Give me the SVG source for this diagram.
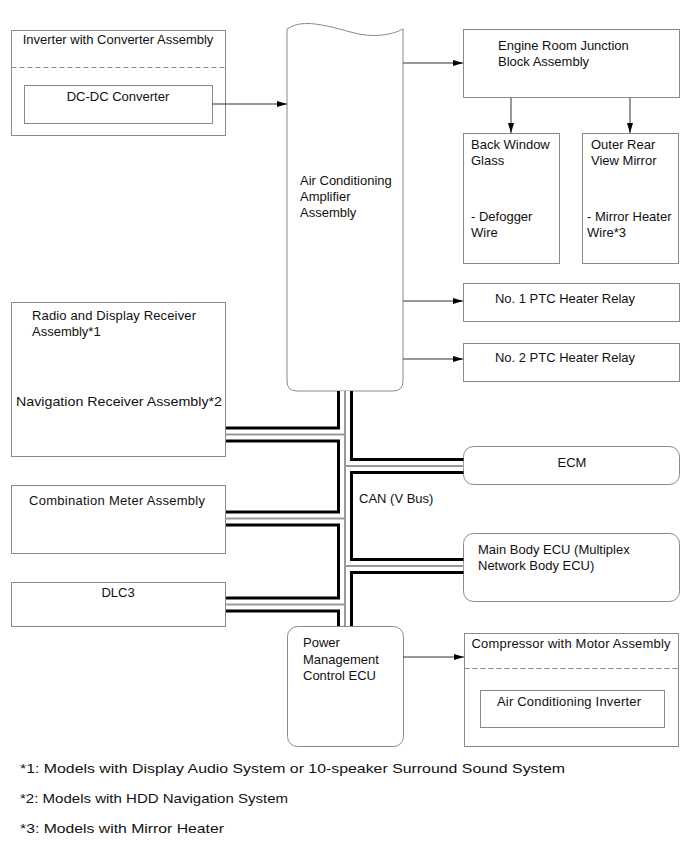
<svg xmlns="http://www.w3.org/2000/svg" width="690" height="855" viewBox="0 0 690 855">
<style>
.box{fill:#fff;stroke:#8a8a8a;stroke-width:1}
.dash{fill:none;stroke:#8a8a8a;stroke-width:1;stroke-dasharray:5,3}
.t{font-family:"Liberation Sans",Arial,sans-serif;font-size:13px;fill:#111}
.m{text-anchor:middle}
.fn{font-size:13.5px}
.arr{fill:none;stroke:#333;stroke-width:1;marker-end:url(#ah)}
.bk{fill:none;stroke:#000;stroke-width:16}
.wh{fill:none;stroke:#fff;stroke-width:10}
.gr{fill:none;stroke:#999;stroke-width:2}
</style>
<defs>
<marker id="ah" markerUnits="userSpaceOnUse" markerWidth="10" markerHeight="6" refX="10" refY="3" orient="auto">
<path d="M0,0 L10,3 L0,6 z" fill="#000"/>
</marker>
</defs>
<rect width="690" height="855" fill="#fff"/>

<g id="inverter">
<rect class="box" x="11.5" y="30.5" width="214" height="105"/>
<line class="dash" x1="11.5" y1="67.5" x2="225.5" y2="67.5"/>
<text class="t m" x="118" y="44">Inverter with Converter Assembly</text>
</g>
<g id="dcdc">
<rect class="box" x="24.5" y="85.5" width="188" height="38"/>
<text class="t m" x="118" y="101">DC-DC Converter</text>
</g>

<g id="amplifier">
<path class="box" d="M287,29 C296,23 306,23 315,24 C340,27 355,36 375,35.5 C390,35 397,32 403,29 L403,381 Q403,391 393,391 L297,391 Q287,391 287,381 Z"/>
<text class="t" x="300" y="185">Air Conditioning</text>
<text class="t" x="300" y="201">Amplifier</text>
<text class="t" x="300" y="217">Assembly</text>
</g>

<g id="engine-room">
<rect class="box" x="463.5" y="29.5" width="216" height="68"/>
<text class="t" x="498" y="50">Engine Room Junction</text>
<text class="t" x="498" y="66">Block Assembly</text>
</g>
<g id="back-window">
<rect class="box" x="463.5" y="133.5" width="96" height="130"/>
<text class="t" x="471" y="149">Back Window</text>
<text class="t" x="471" y="165">Glass</text>
<text class="t" x="471" y="221">- Defogger</text>
<text class="t" x="471" y="237">Wire</text>
</g>
<g id="outer-mirror">
<rect class="box" x="582.5" y="133.5" width="96" height="130"/>
<text class="t" x="591" y="149">Outer Rear</text>
<text class="t" x="591" y="165">View Mirror</text>
<text class="t" x="587" y="221">- Mirror Heater</text>
<text class="t" x="587" y="237">Wire*3</text>
</g>
<g id="ptc1">
<rect class="box" x="463.5" y="283.5" width="216" height="38"/>
<text class="t m" x="565" y="303">No. 1 PTC Heater Relay</text>
</g>
<g id="ptc2">
<rect class="box" x="463.5" y="343.5" width="216" height="38"/>
<text class="t m" x="565" y="362">No. 2 PTC Heater Relay</text>
</g>

<g id="radio">
<rect class="box" x="11.5" y="302.5" width="214" height="154"/>
<text class="t" x="32" y="320" textLength="164" lengthAdjust="spacing">Radio and Display Receiver</text>
<text class="t" x="32" y="336">Assembly*1</text>
<text class="t" x="16" y="406" textLength="206" lengthAdjust="spacingAndGlyphs">Navigation Receiver Assembly*2</text>
</g>
<g id="combination">
<rect class="box" x="11.5" y="485.5" width="214" height="68"/>
<text class="t m" x="117" y="505" textLength="176" lengthAdjust="spacing">Combination Meter Assembly</text>
</g>
<g id="dlc3">
<rect class="box" x="11.5" y="582.5" width="214" height="44"/>
<text class="t m" x="118" y="597">DLC3</text>
</g>

<g id="ecm">
<rect class="box" x="463.5" y="446.5" width="216" height="38" rx="10"/>
<text class="t m" x="572" y="467">ECM</text>
</g>
<g id="main-body">
<rect class="box" x="463.5" y="533.5" width="216" height="68" rx="10"/>
<text class="t" x="478" y="554">Main Body ECU (Multiplex</text>
<text class="t" x="478" y="570">Network Body ECU)</text>
</g>
<g id="power-mgmt">
<rect class="box" x="287.5" y="626.5" width="116" height="120" rx="10"/>
<text class="t" x="303" y="647">Power</text>
<text class="t" x="303" y="663.5">Management</text>
<text class="t" x="303" y="680">Control ECU</text>
</g>
<g id="compressor">
<rect class="box" x="464.5" y="633.5" width="214" height="113"/>
<line class="dash" x1="464.5" y1="668.5" x2="678.5" y2="668.5"/>
<text class="t m" x="571" y="648" textLength="199" lengthAdjust="spacing">Compressor with Motor Assembly</text>
</g>
<g id="ac-inverter">
<rect class="box" x="480.5" y="690.5" width="184" height="37"/>
<text class="t m" x="569" y="706" textLength="144" lengthAdjust="spacing">Air Conditioning Inverter</text>
</g>

<g id="connectors">
<path class="arr" d="M212,104 H287"/>
<path class="arr" d="M403,63 H463"/>
<path class="arr" d="M511,98 V133"/>
<path class="arr" d="M630,98 V133"/>
<path class="arr" d="M403,301 H463"/>
<path class="arr" d="M403,359 H463"/>
<path class="arr" d="M403,657 H464"/>
<g id="can-bus">
<path class="bk" d="M345,391 V626 M226,434.5 H345 M226,518.5 H345 M226,604.5 H345 M345,466 H463.5 M345,566 H463.5"/>
<path class="wh" d="M345,391 V626 M226,434.5 H345 M226,518.5 H345 M226,604.5 H345 M345,466 H463.5 M345,566 H463.5"/>
<path class="gr" d="M345,391 V626 M226,434.5 H345 M226,518.5 H345 M226,604.5 H345 M345,466 H463.5 M345,566 H463.5"/>
</g>
<text class="t" x="359" y="503">CAN (V Bus)</text>
</g>

<g id="notes">
<text class="t fn" x="20" y="773" textLength="545" lengthAdjust="spacingAndGlyphs">*1: Models with Display Audio System or 10-speaker Surround Sound System</text>
<text class="t fn" x="20" y="803" textLength="268" lengthAdjust="spacingAndGlyphs">*2: Models with HDD Navigation System</text>
<text class="t fn" x="20" y="833" textLength="204" lengthAdjust="spacingAndGlyphs">*3: Models with Mirror Heater</text>
</g>
</svg>
